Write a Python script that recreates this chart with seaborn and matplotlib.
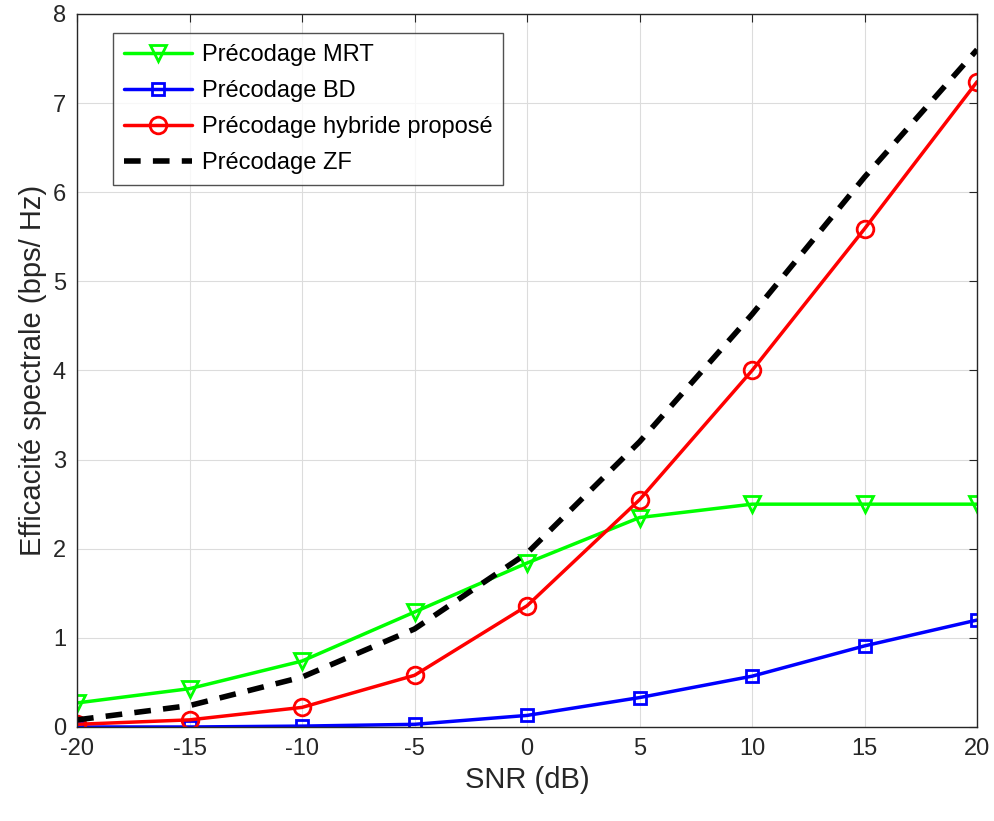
import numpy as np
import pandas as pd
import matplotlib
matplotlib.use('Agg')
import matplotlib.pyplot as plt
import seaborn as sns

# data
snr = [-20, -15, -10, -5, 0, 5, 10, 15, 20]
mrt = [0.27, 0.43, 0.74, 1.29, 1.84, 2.35, 2.50, 2.50, 2.50]
bd = [0.00, 0.00, 0.01, 0.03, 0.13, 0.33, 0.57, 0.91, 1.20]
hybride = [0.03, 0.08, 0.22, 0.58, 1.36, 2.55, 4.00, 5.59, 7.24]
zf = [0.08, 0.24, 0.56, 1.10, 1.95, 3.20, 4.63, 6.17, 7.60]

labels = ['Précodage MRT', 'Précodage BD', 'Précodage hybride proposé', 'Précodage ZF']

sns.set_style('white')
plt.rcParams['font.family'] = ['Liberation Sans', 'DejaVu Sans']
plt.rcParams['axes.unicode_minus'] = False

fig = plt.figure(figsize=(9.95, 8.21), dpi=100)
ax = fig.add_axes([0.0774, 0.1145, 0.9046, 0.8685])

sns.lineplot(x=snr, y=mrt, ax=ax, color='#00ff00', lw=2.5, marker='v', ms=12,
             mfc='none', mec='#00ff00', mew=2, label=labels[0])
sns.lineplot(x=snr, y=bd, ax=ax, color='#0000ff', lw=2.5, marker='s', ms=9,
             mfc='none', mec='#0000ff', mew=2, label=labels[1])
sns.lineplot(x=snr, y=hybride, ax=ax, color='#ff0000', lw=2.5, marker='o', ms=12,
             mfc='none', mec='#ff0000', mew=2, label=labels[2])
sns.lineplot(x=snr, y=zf, ax=ax, color='black', lw=4, dashes=False, label=labels[3])
ax.lines[-1].set_linestyle((0, (3, 2.2)))

ax.set_xlim(-20, 20)
ax.set_ylim(0, 8)
ax.set_xticks(np.arange(-20, 21, 5))
ax.set_yticks(np.arange(0, 9, 1))
ax.grid(True, color='#dcdcdc', lw=0.8)
ax.tick_params(direction='in', labelsize=17, length=6, colors='#262626',
               top=True, right=True, pad=8)
for s in ax.spines.values():
    s.set_color('#262626')
    s.set_linewidth(1)
    s.set_visible(True)

ax.set_xlabel('SNR (dB)', fontsize=21, color='#262626')
ax.set_ylabel('Efficacité spectrale (bps/ Hz)', fontsize=21, color='#262626')

leg = ax.legend(loc='upper left', bbox_to_anchor=(0.04, 0.973), fontsize=17,
                frameon=True, fancybox=False, edgecolor='#262626',
                handlelength=2.9, handletextpad=0.4, borderpad=0.45,
                labelspacing=0.6, borderaxespad=0, labelcolor='black')
leg.get_frame().set_linewidth(1)

fig.savefig('out.png', dpi=100)
